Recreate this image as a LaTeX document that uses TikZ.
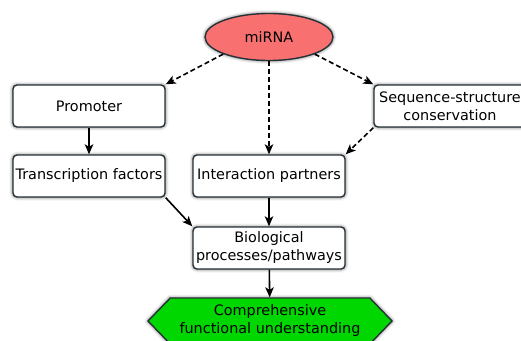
\documentclass[tikz,border=0pt]{standalone}
\usepackage{fontspec}
\setmainfont{DejaVu Sans}
\usetikzlibrary{arrows.meta}
\usetikzlibrary{shapes.geometric, shapes.symbols}
\usetikzlibrary{shadows.blur}
\usetikzlibrary{positioning}
\definecolor{mirnared}{RGB}{248,112,112}
\definecolor{hexgreen}{RGB}{0,214,0}
\definecolor{boxline}{RGB}{38,50,56}

\begin{document}
\begin{tikzpicture}[x=1pt,y=-1pt]
	\useasboundingbox (0,0) rectangle (521,340);
	\clip (0,0) rectangle (521,340);
	\begin{scope}[every node/.style={draw=boxline, line width=1.4pt, fill=white, rounded corners=4pt,
	              minimum width=152pt, minimum height=42pt, inner sep=1pt, align=center,
	              font=\fontsize{14.4}{18}\selectfont,
	              blur shadow={shadow xshift=0pt, shadow yshift=0pt, shadow blur radius=3.5pt, shadow opacity=70}}]
		\node[ellipse, sharp corners, fill=mirnared, minimum width=128pt, minimum height=47pt] (mirna) at (269,37) {miRNA};
		\node (promoter) 		at (89,106) {Promoter};
		\node (conservation) 	at (450,106) {Sequence-structure\\conservation};
		\node (tfactors) 		at (89,176) {Transcription factors};
		\node (partners) 		at (269,176) {Interaction partners};
		\node (pathways) 		at (269,248) {Biological\\processes/pathways};
		\node[signal, signal to=west and east, signal pointer angle=92, sharp corners, fill=hexgreen,
		      minimum width=244pt, minimum height=46pt] (understanding) at (270,321) {Comprehensive\\functional understanding};
	\end{scope}
	\begin{scope}[every edge/.style={draw=black, line width=1.6pt, dash pattern=on 5pt off 3pt,
	              -{Stealth[length=10pt,width=8.5pt,inset=2.5pt]}}]
		\path (mirna.south west) edge (promoter.north east);
		\path (mirna.south) edge (partners.north);
		\path (mirna.south east) edge (conservation.north west);
		\path (conservation.south west) edge (partners.north east);
	\end{scope}
	\begin{scope}[every edge/.style={draw=black, line width=1.6pt,
	              -{Stealth[length=10pt,width=8.5pt,inset=2.5pt]}}]
		\path (promoter) edge (tfactors);
		\path (tfactors.south east) edge (pathways.north west);
		\path (partners) edge (pathways);
		\path (pathways) edge (understanding);
	\end{scope}
\end{tikzpicture}
\end{document}
